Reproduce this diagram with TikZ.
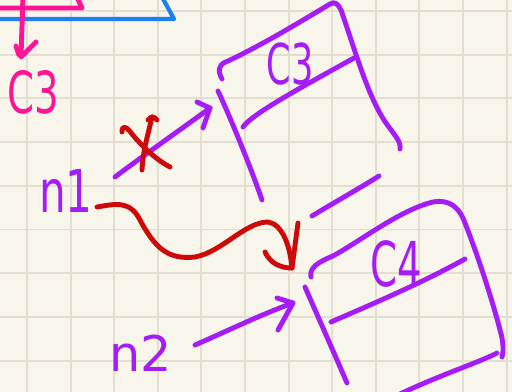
\documentclass[tikz,border=0pt]{standalone}
\usepackage{fontspec}
\setmainfont{DejaVu Sans}
\usepackage{tikz}

\definecolor{paper}{HTML}{F8F6EA}
\definecolor{gridgray}{HTML}{E2DFD2}
\definecolor{penviolet}{HTML}{A61CF6}
\definecolor{penred}{HTML}{CC0A0A}
\definecolor{penpink}{HTML}{FF1496}
\definecolor{penblue}{HTML}{1E7FF2}

\begin{document}
\begin{tikzpicture}[
    x=0.02cm, y=-0.02cm,
    ink/.style={line width=2.8pt, line cap=round, line join=round},
    violet ink/.style={ink, draw=penviolet},
    red ink/.style={ink, draw=penred},
    pink ink/.style={ink, draw=penpink},
    hand/.style={inner sep=0pt, font=\fontsize{22}{22}\selectfont},
    gridline/.style={line width=1.1pt, draw=gridgray}
]
    \useasboundingbox (0,0) rectangle (512,392);
    \fill[paper] (0,0) rectangle (512,392);
    % squared paper
    \foreach \gx in {27,70.6,...,510} \draw[gridline] (\gx,0) -- (\gx,392);
    \foreach \gy in {11,54.7,...,392} \draw[gridline] (0,\gy) -- (512,\gy);

    % cut-off shapes at the top
    \draw[ink, draw=penblue, line width=2.4pt] (-5,19) -- (174,19) -- (161,-5);
    \draw[pink ink] (-5,8) -- (82,8) -- (76,-5);
    \node[hand, text=penpink, yscale=1.5] (pinkc3) at (33,92) {C3};
    \coordinate (pinktip) at (21,57);
    \draw[pink ink] (23,-5) -- (pinktip) -- ++(15,-15);
    \draw[pink ink] (16,46) -- (19,55);

    % box C3
    \draw[violet ink] (222,79) .. controls (217,70) and (219,64) .. (228,61)
        .. controls (262,45) and (300,22) .. (330,4)
        .. controls (335,1) and (338,4) .. (341,10)
        .. controls (355,50) and (368,97) .. (386,123)
        .. controls (395,136) and (401,141) .. (400,149);
    \draw[violet ink] (218,91) .. controls (228,112) and (250,165) .. (262,200);
    \draw[violet ink] (243,127) .. controls (252,114) and (300,88) .. (354,58);
    \draw[violet ink] (312,216) .. controls (330,205) and (360,188) .. (379,176);
    \node[hand, text=penviolet, font=\fontsize{20}{20}\selectfont, yscale=1.6] (boxc3) at (290,64) {C3};

    % box C4
    \draw[violet ink] (311,277) .. controls (309,268) and (318,262) .. (333,256)
        .. controls (362,240) and (400,210) .. (433,202)
        .. controls (450,199) and (458,208) .. (463,218)
        .. controls (480,260) and (495,310) .. (500,330)
        .. controls (503,340) and (504,350) .. (502,357);
    \draw[violet ink] (305,287) .. controls (315,310) and (335,355) .. (347,383);
    \draw[violet ink] (331,322) .. controls (370,305) and (420,284) .. (465,259);
    \draw[violet ink] (497,353) .. controls (480,362) and (440,375) .. (400,394);
    \node[hand, text=penviolet, yscale=1.6] (boxc4) at (396,264) {C4};

    % sources
    \node[hand, text=penviolet, font=\fontsize{24}{24}\selectfont, yscale=1.4] (n1) at (66,191) {n1};
    \node[hand, text=penviolet, font=\fontsize{28}{28}\selectfont] (n2) at (141,353) {n2};

    % n1 -> C3, crossed out
    \coordinate (n1top) at (115,177);
    \coordinate (c3in) at (210,108);
    \draw[violet ink] (n1top) .. controls (140,158) and (180,130) .. (c3in);
    \draw[violet ink] (c3in) ++(-13,-6) -- (c3in) -- ++(-7,20);
    \draw[red ink] (122,132) .. controls (121,126) and (126,125) .. (132,134)
        .. controls (145,150) and (160,162) .. (170,167);
    \draw[red ink] (148,120) .. controls (151,116) and (154,116) .. (157,120);
    \draw[red ink] (152,117) .. controls (148,135) and (143,150) .. (142,170);

    % n1 -> C4
    \coordinate (n1right) at (97,207);
    \coordinate (c4in) at (292,268);
    \draw[red ink] (n1right) .. controls (115,204) and (130,200) .. (140,220)
        .. controls (155,248) and (168,260) .. (195,257)
        .. controls (222,252) and (245,222) .. (268,222)
        .. controls (282,224) and (290,245) .. (c4in);
    \draw[red ink] (c4in) ++(6,-45) -- (c4in);
    \draw[red ink] (265,252) .. controls (270,263) and (280,268) .. (c4in);

    % n2 -> C4
    \coordinate (n2right) at (195,345);
    \coordinate (c4low) at (293,303);
    \draw[violet ink] (n2right) .. controls (225,332) and (262,314) .. (c4low);
    \draw[violet ink] (c4low) ++(-16,-5) -- (c4low) -- ++(-15,27);
\end{tikzpicture}
\end{document}
